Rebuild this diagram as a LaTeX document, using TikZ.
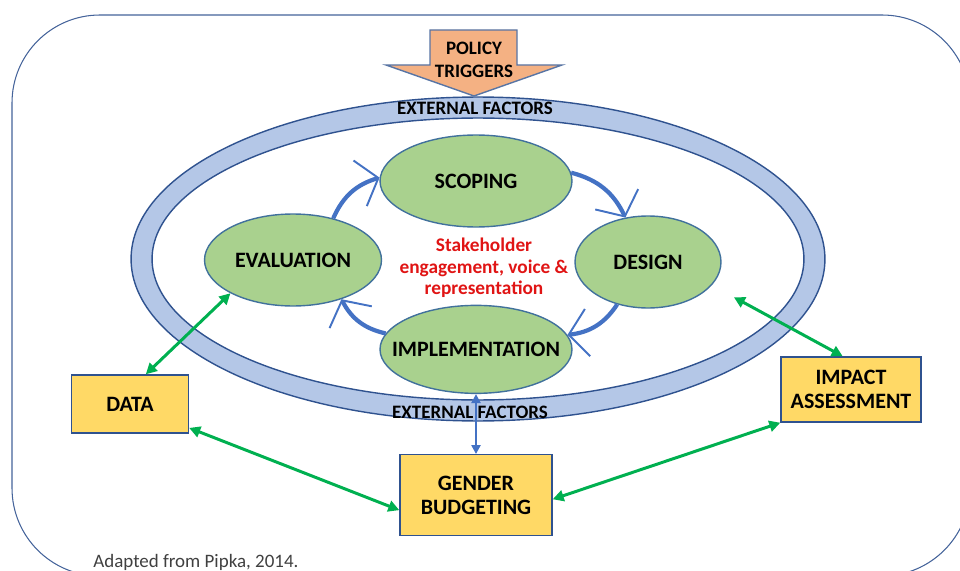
\documentclass[tikz,border=0pt]{standalone}
\usepackage{fontspec}
\setmainfont{Carlito}
\usepackage{tikz}
\usetikzlibrary{shapes,arrows.meta,positioning}
\definecolor{ringblue}{RGB}{180,199,231}
\definecolor{darkblue}{RGB}{47,82,143}
\definecolor{phasegreen}{RGB}{169,209,142}
\definecolor{phaseline}{RGB}{65,113,156}
\definecolor{boxyellow}{RGB}{255,217,102}
\definecolor{triggerorange}{RGB}{244,177,131}
\definecolor{cycleblue}{RGB}{68,114,196}
\definecolor{linkgreen}{RGB}{0,176,80}
\definecolor{voicered}{RGB}{224,20,20}

\begin{document}
\begin{tikzpicture}[x=0.02cm, y=-0.02cm, font=\fontsize{12.5}{14}\selectfont\bfseries]
    \tikzstyle{phase}=[ellipse, draw=phaseline, fill=phasegreen, line width=0.8pt]
    \tikzstyle{box}=[rectangle, draw=darkblue, fill=boxyellow, line width=0.8pt, align=center]
    \tikzstyle{cyclearrow}=[-{Straight Barb[length=0.38cm, width=0.95cm, line width=1.1pt]}, line width=2.4pt, draw=cycleblue, bend left=25]
    \tikzstyle{twoway}=[{Triangle[length=0.22cm, width=0.22cm]}-{Triangle[length=0.22cm, width=0.22cm]}, line width=1.7pt, draw=linkgreen]
    \tikzstyle{updown}=[{Triangle[length=0.18cm, width=0.18cm]}-{Triangle[length=0.18cm, width=0.18cm]}, line width=1.3pt, draw=cycleblue]
    \tikzstyle{ext}=[font=\fontsize{10.8}{13}\selectfont\bfseries, inner sep=0pt, align=center]
    \useasboundingbox (0,0) rectangle (960,571);
    \clip (0,0) rectangle (960,571);

      % frame and ring
      \draw[darkblue!90, line width=0.6pt, rounded corners=1.76cm] (12,15) rectangle (970,576);
      \draw[darkblue, fill=ringblue, line width=0.8pt, even odd rule]
            (478,259) ellipse [x radius=6.94cm, y radius=3.24cm]
            (478,259) ellipse [x radius=6.52cm, y radius=2.82cm];

      % policy triggers
      \draw[darkblue!80, fill=triggerorange, line width=0.8pt]
            (430,30) -- (517,30) -- (517,65) -- (562,65) -- (474,96) -- (386,65) -- (430,65) -- cycle;
      \node[ext] (trigger) at (474,60) {POLICY\\TRIGGERS};

      \node[phase, minimum width=3.84cm, minimum height=1.84cm, label=center:SCOPING] (scoping) at (476,181) { };
      \node[phase, minimum width=3.84cm, minimum height=1.76cm, label=center:IMPLEMENTATION] (implementation) [below=1.54cm of scoping] { };
      \node[phase, minimum width=3.54cm, minimum height=1.84cm, label=center:EVALUATION] (evaluation) at (293,260) { };
      \node[phase, minimum width=2.92cm, minimum height=1.84cm, label=center:DESIGN] (design) at (648,262) { };

      \node[text=voicered, font=\fontsize{11}{12.3}\selectfont\bfseries, align=center] (voice) at (484,268) {Stakeholder\\engagement, voice \&\\representation};

      \node[box, minimum width=2.34cm, minimum height=1.16cm] (data) at (130,404) {DATA};
      \node[box, minimum width=3.04cm, minimum height=1.62cm] (gender) [below=1.2cm of implementation] {GENDER\\BUDGETING};
      \node[box, minimum width=2.8cm, minimum height=1.3cm] (impact) at (851,389.5) {IMPACT\\ASSESSMENT};

      \path (scoping.5) edge [cyclearrow] (design.117);
      \path (design.-126) edge [cyclearrow] (implementation.9);
      \path (implementation.170) edge [cyclearrow] (evaluation.-39);
      \path (evaluation.46) edge [cyclearrow] (scoping.178);

      \path (evaluation.208) edge [twoway] (data.62);
      \path (design.-20) edge [twoway, shorten <=0.5cm] (impact.104);
      \path (data.-22) edge [twoway] (gender.191);
      \path (gender.-3) edge [twoway] (impact.south west);
      \path (implementation.south) edge [updown] (gender.north);

      \node[ext] (extTop) at (475,108) {EXTERNAL FACTORS};
      \node[ext] (extBottom) at (470,412) {EXTERNAL FACTORS};

      \node[font=\fontsize{10.8}{12}\selectfont, text=black!75, anchor=base west, inner sep=0pt] (source) at (93,567) {Adapted from Pipka, 2014.};
\end{tikzpicture}
\end{document}
